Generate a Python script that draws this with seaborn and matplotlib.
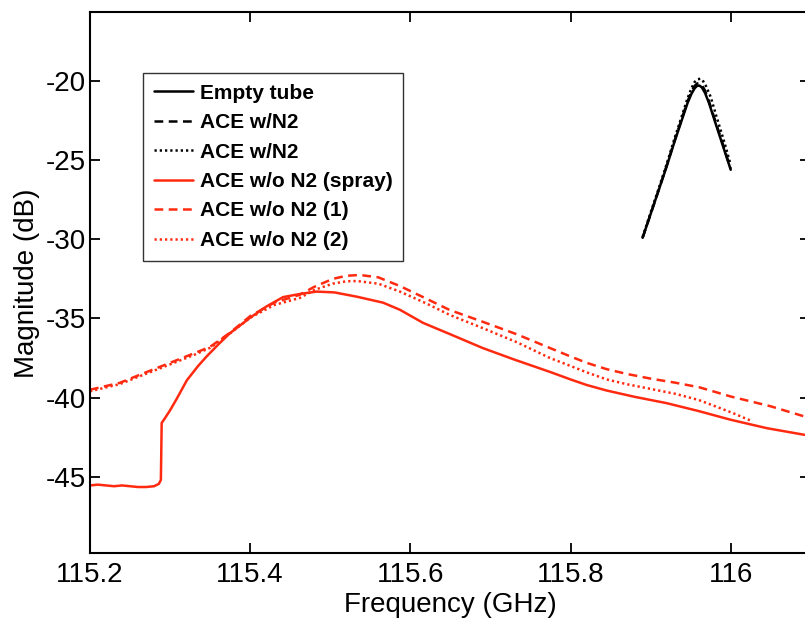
import matplotlib
matplotlib.use("Agg")
import matplotlib.pyplot as plt
import seaborn as sns

# ---- data ----
empty_x = [115.890, 115.900, 115.910, 115.920, 115.930, 115.940, 115.946, 115.951, 115.955,
           115.958, 115.961, 115.964, 115.968, 115.973, 115.980, 115.990, 116.000]
empty_y = [-29.9, -28.4, -26.9, -25.4, -23.8, -22.3, -21.4, -20.8, -20.45,
           -20.3, -20.28, -20.4, -20.75, -21.4, -22.5, -24.05, -25.6]

n2a_x = empty_x
n2a_y = [-29.9, -28.4, -26.9, -25.35, -23.75, -22.2, -21.3, -20.65, -20.3,
         -20.15, -20.12, -20.25, -20.6, -21.3, -22.4, -23.95, -25.55]

n2b_x = [115.890, 115.900, 115.910, 115.920, 115.930, 115.940, 115.946, 115.951, 115.955,
         115.959, 115.962, 115.965, 115.969, 115.975, 115.982, 115.992, 116.000]
n2b_y = [-29.85, -28.3, -26.8, -25.25, -23.6, -22.05, -21.1, -20.45, -20.05,
         -19.88, -19.85, -19.95, -20.3, -21.0, -22.2, -23.85, -25.3]

spray_x = [115.200, 115.210, 115.220, 115.230, 115.240, 115.250, 115.260, 115.270, 115.280,
           115.286, 115.2885, 115.2895, 115.2936, 115.300, 115.308, 115.321, 115.335, 115.3456,
           115.360, 115.3747, 115.400, 115.420, 115.441, 115.462, 115.483, 115.505, 115.533,
           115.566, 115.587, 115.616, 115.650, 115.690, 115.730, 115.774, 115.800, 115.820,
           115.845, 115.880, 115.920, 115.960, 116.000, 116.045, 116.092]
spray_y = [-45.55, -45.5, -45.55, -45.6, -45.55, -45.6, -45.65, -45.65, -45.6,
           -45.45, -45.2, -41.6, -41.3, -40.8, -40.1, -38.9, -38.0, -37.4,
           -36.65, -35.93, -34.95, -34.25, -33.65, -33.45, -33.3, -33.35, -33.62,
           -34.0, -34.45, -35.28, -36.0, -36.86, -37.6, -38.37, -38.85, -39.2,
           -39.55, -39.95, -40.35, -40.85, -41.4, -41.93, -42.35]

ace1_x = [115.200, 115.237, 115.262, 115.300, 115.330, 115.350, 115.3747, 115.400, 115.430,
          115.462, 115.480, 115.503, 115.520, 115.537, 115.560, 115.587, 115.620, 115.649,
          115.690, 115.733, 115.774, 115.800, 115.820, 115.845, 115.870, 115.900, 115.930,
          115.961, 116.000, 116.050, 116.092]
ace1_y = [-39.5, -39.07, -38.56, -37.8, -37.2, -36.79, -35.9, -34.85, -34.0,
          -33.5, -33.0, -32.5, -32.3, -32.25, -32.4, -32.95, -33.75, -34.46,
          -35.2, -36.0, -36.86, -37.4, -37.8, -38.2, -38.5, -38.8, -39.05,
          -39.35, -39.93, -40.55, -41.19]

ace2_x = [115.200, 115.237, 115.262, 115.300, 115.330, 115.350, 115.3747, 115.400, 115.430,
          115.462, 115.480, 115.503, 115.520, 115.533, 115.560, 115.587, 115.620, 115.649,
          115.690, 115.733, 115.774, 115.800, 115.820, 115.845, 115.870, 115.900, 115.930,
          115.960, 116.002, 116.027]
ace2_y = [-39.6, -39.15, -38.65, -37.9, -37.3, -36.85, -35.95, -34.95, -34.15,
          -33.7, -33.2, -32.8, -32.65, -32.63, -32.8, -33.3, -34.05, -34.77,
          -35.6, -36.5, -37.49, -38.0, -38.4, -38.85, -39.15, -39.45, -39.75,
          -40.15, -40.96, -41.5]

labels = ["Empty tube", "ACE w/N2", "ACE w/N2", "ACE w/o N2 (spray)",
          "ACE w/o N2 (1)", "ACE w/o N2 (2)"]
x_ticks = [115.2, 115.4, 115.6, 115.8, 116.0]
x_tick_labels = ["115.2", "115.4", "115.6", "115.8", "116"]
y_ticks = [-45, -40, -35, -30, -25, -20]

# ---- style ----
sns.set_style("ticks")
plt.rcParams["font.family"] = ["Liberation Sans", "DejaVu Sans"]
plt.rcParams["axes.unicode_minus"] = False
plt.rcParams["text.color"] = "black"
plt.rcParams["axes.labelcolor"] = "black"
plt.rcParams["xtick.color"] = "black"
plt.rcParams["ytick.color"] = "black"

fig = plt.figure(figsize=(8.05, 6.18), dpi=100)
ax = fig.add_axes([0.1118, 0.1044, 0.8944, 0.8757])

black = "#000000"
red = "#ff2a10"
lw = 1.8

series = [
    (empty_x, empty_y, black, None),
    (n2a_x, n2a_y, black, (3.5, 2.2)),
    (n2b_x, n2b_y, black, (0.9, 1.2)),
    (spray_x, spray_y, red, None),
    (ace1_x, ace1_y, red, (3.5, 2.2)),
    (ace2_x, ace2_y, red, (0.9, 1.2)),
]
for (xs, ys, c, dash), lab in zip(series, labels):
    sns.lineplot(x=xs, y=ys, ax=ax, color=c, linewidth=lw, sort=False,
                 estimator=None, label=lab)
    line = ax.get_lines()[-1]
    if dash is not None:
        line.set_dashes(dash)

ax.set_xlim(115.2, 116.099)
ax.set_ylim(-49.85, -15.65)
ax.set_xticks(x_ticks)
ax.set_xticklabels(x_tick_labels)
ax.set_yticks(y_ticks)
ax.tick_params(direction="in", length=7, width=1.3, labelsize=20, top=True, right=True,
               colors="black")
ax.tick_params(axis="x", pad=6)
ax.tick_params(axis="y", pad=3)
for s in ax.spines.values():
    s.set_visible(True)
    s.set_linewidth(1.5)
    s.set_color("black")

ax.set_xlabel("Frequency (GHz)", fontsize=20, labelpad=3)
ax.set_ylabel("Magnitude (dB)", fontsize=20, labelpad=4)

leg = ax.legend(loc="upper left", bbox_to_anchor=(0.0735, 0.888), fancybox=False,
                framealpha=1, edgecolor="#333333", borderaxespad=0,
                prop={"weight": "bold", "size": 15}, handlelength=1.9,
                handletextpad=0.3, labelspacing=0.5, borderpad=0.52)
leg.get_frame().set_linewidth(1.0)
for t in leg.get_texts():
    t.set_color("black")

fig.savefig("out.png", dpi=100)
